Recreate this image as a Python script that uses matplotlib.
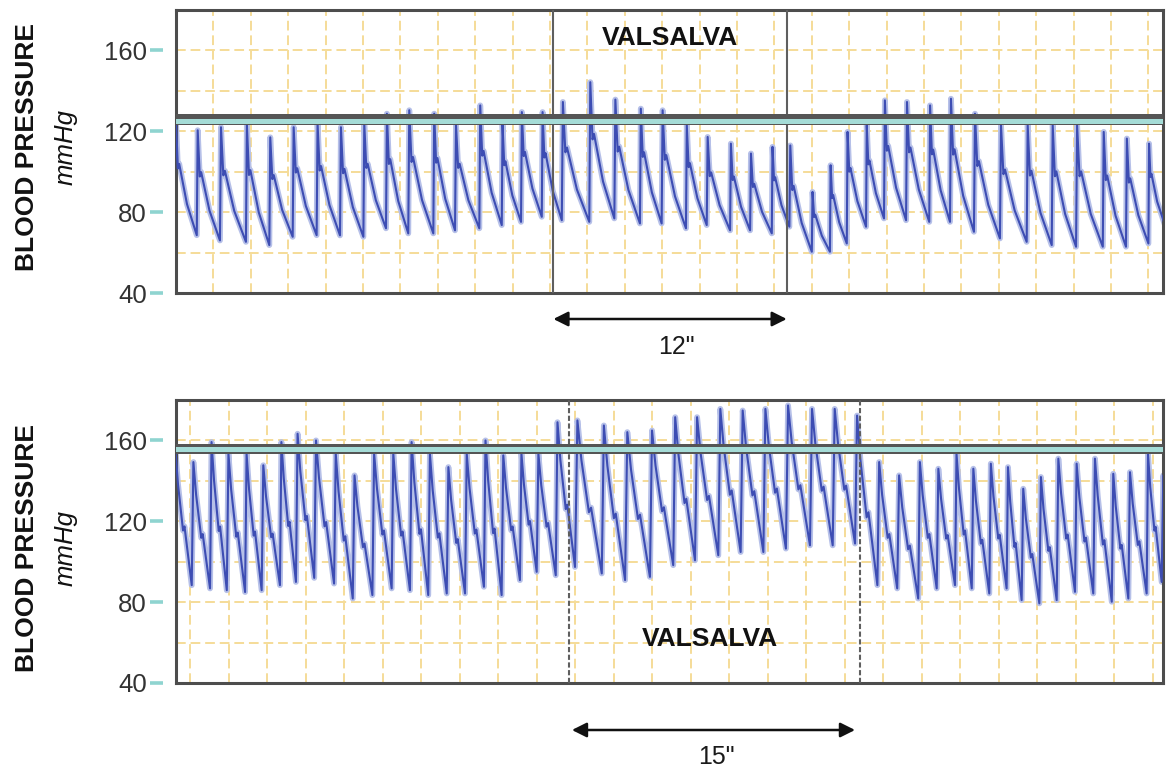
import matplotlib
matplotlib.use("Agg")
import matplotlib.pyplot as plt
import matplotlib.transforms as mtransforms
from matplotlib.ticker import MultipleLocator

plt.rcParams['font.family'] = ['Liberation Sans', 'DejaVu Sans']

# ---------------- data ----------------
# time in seconds, pressure in mmHg
# upper recording (12" Valsalva)
top_beat_t = [-0.05, 1.11, 2.35, 3.74, 4.99, 6.24, 7.52, 8.77, 10.02, 11.23,
              12.42, 13.76, 14.92, 16.22, 17.42, 18.45, 19.56, 20.63, 22.10, 23.44,
              24.81, 25.97, 27.27, 28.38, 29.63, 30.70, 31.86, 32.80, 34.00, 34.97,
              35.87, 36.90, 37.86, 39.04, 40.28, 41.39, 42.67, 44.06, 45.49, 46.83,
              48.13, 49.56, 50.80, 52.00]
top_peak = [125.5, 120.5, 122.0, 123.5, 117.0, 122.0, 123.8, 122.0, 123.5, 128.7,
            130.4, 128.7, 123.5, 132.8, 123.5, 129.5, 129.5, 134.5, 144.3, 135.7,
            131.2, 130.4, 123.0, 117.2, 113.9, 109.0, 112.3, 113.0, 90.0, 103.2,
            119.7, 123.0, 135.3, 134.5, 132.8, 136.1, 128.7, 123.0, 123.0, 123.0,
            123.0, 119.7, 116.4, 113.9]
top_trough = [100.0, 68.6, 66.0, 65.3, 63.7, 67.8, 68.6, 68.5, 67.8, 72.0,
              69.5, 69.5, 71.0, 72.0, 73.6, 75.2, 77.7, 76.0, 75.2, 76.9,
              74.4, 74.4, 72.0, 73.6, 71.0, 71.0, 69.5, 72.8, 60.4, 60.4,
              64.5, 72.8, 76.9, 76.0, 75.2, 75.2, 70.3, 67.0, 65.3, 63.7,
              62.9, 62.9, 62.9, 64.5, 74.6]
top_end_t = 52.85
top_valsalva = [20.18, 32.66]
top_baseline = [122.96, 128.74]      # horizontal reference bar (outer)
top_baseline_core = [123.80, 126.27]  # inner light band

# lower recording (15" Valsalva)
bot_beat_t = [-0.85, 0.09, 1.04, 1.91, 2.86, 3.72, 4.67, 5.50, 6.45, 7.48,
              8.45, 9.47, 10.47, 11.42, 12.37, 13.33, 14.28, 15.26, 16.18, 17.13,
              18.00, 18.99, 19.99, 21.38, 22.59, 23.88, 25.09, 26.22, 27.43, 28.59,
              29.77, 30.94, 32.19, 33.37, 34.53, 35.69, 36.72, 37.81, 38.77, 39.72,
              40.59, 41.50, 42.40, 43.18, 44.10, 45.00, 45.95, 46.90, 47.86, 48.72,
              49.67, 50.45]
bot_peak = [156.0, 149.3, 159.2, 153.4, 153.4, 147.7, 159.2, 163.3, 160.0, 153.4,
            142.7, 153.4, 153.4, 159.2, 153.4, 146.8, 153.4, 160.0, 152.6, 153.4,
            153.4, 169.0, 169.9, 167.4, 164.1, 164.9, 171.5, 171.5, 175.6, 174.8,
            175.6, 177.3, 175.6, 175.6, 172.3, 149.3, 142.7, 149.3, 146.0, 153.4,
            146.0, 148.5, 146.8, 136.1, 141.9, 151.0, 148.5, 151.0, 143.5, 144.3,
            153.4, 142.7]
bot_trough = [95.0, 88.4, 86.8, 85.9, 85.0, 85.9, 88.4, 90.0, 92.0, 89.2,
              81.8, 83.5, 86.8, 85.9, 83.5, 84.3, 84.3, 87.6, 83.5, 90.9,
              95.0, 93.3, 97.4, 94.2, 90.9, 92.5, 98.3, 100.7, 103.2, 104.8,
              104.8, 106.5, 108.1, 108.1, 109.0, 88.4, 86.8, 81.8, 86.8, 88.4,
              86.8, 84.3, 86.8, 81.0, 79.4, 81.0, 85.1, 84.3, 80.2, 81.8,
              84.3, 90.0, 90.0]
bot_end_t = 51.4
bot_valsalva = [19.68, 34.79]
bot_arrow = [19.83, 34.53]
bot_baseline = [153.4, 158.4]
bot_baseline_core = [154.2, 156.7]

y_ticks = [40, 80, 120, 160]

# pulse-contour template: fraction of the beat, fraction of pulse height
top_phase = [0.0, 0.04, 0.13, 0.19, 0.55]
top_level = [0.0, 1.0, 0.58, 0.62, 0.27]
bot_phase = [0.0, 0.09, 0.24, 0.52, 0.60]
bot_level = [0.0, 1.0, 0.74, 0.40, 0.43]


def build_trace(beat_t, peaks, troughs, end_t, phases, levels):
    ts = list(beat_t) + [end_t]
    xs, ys = [], []
    for i, pk in enumerate(peaks):
        t0, t1 = ts[i], ts[i + 1]
        lo0, lo1 = troughs[i], troughs[i + 1]
        for ph, lv in zip(phases, levels):
            if ph == 0.0:
                xs.append(t0)
                ys.append(lo0)
            else:
                xs.append(t0 + ph * (t1 - t0))
                ys.append(lo1 + lv * (pk - lo1))
    xs.append(ts[-1])
    ys.append(troughs[-1])
    return xs, ys


W, H = 1167, 773
fig = plt.figure(figsize=(W / 100, H / 100), dpi=100)

GRID_C = '#f5dc98'
SPINE_C = '#4d4d4d'
HALO_C = '#b6c0e8'
LINE_C = '#3d4db3'


def style_axes(ax, xlim):
    ax.set_xlim(*xlim)
    ax.set_ylim(40, 180)
    ax.xaxis.set_major_locator(MultipleLocator(2))
    ax.set_yticks(y_ticks)
    ax.yaxis.set_minor_locator(MultipleLocator(20))
    ax.tick_params(axis='x', length=0, labelbottom=False)
    ax.tick_params(axis='y', which='both', length=0)
    ax.tick_params(axis='y', which='major', pad=21, labelsize=18.5, labelcolor='#333333')
    ax.grid(True, which='major', axis='x', color=GRID_C, lw=1.4, ls=(0, (5, 2.5)), zorder=0)
    ax.grid(True, which='both', axis='y', color=GRID_C, lw=1.4, ls=(0, (5, 2.5)), zorder=0)
    ax.set_axisbelow(True)
    for s in ax.spines.values():
        s.set_color(SPINE_C)
        s.set_linewidth(2.2)
    trans = mtransforms.blended_transform_factory(ax.transAxes, ax.transData)
    for v in y_ticks:
        ax.plot([-0.0265, -0.0130], [v, v], transform=trans, color='#8fd4d0',
                lw=2.6, clip_on=False, solid_capstyle='butt')


def draw_band(ax, outer, core):
    ax.axhspan(outer[0], outer[1], color='#555555', lw=0, zorder=5)
    ax.axhspan(core[0], core[1], color='#a5dcd7', lw=0, zorder=6)


def fig_frac(px, py):
    return px / W, 1 - py / H


# ---------------- top panel ----------------
ax1 = fig.add_axes([176 / W, (H - 293) / H, 987 / W, 283 / H])
style_axes(ax1, (0, 52.78))
xs, ys = build_trace(top_beat_t, top_peak, top_trough, top_end_t, top_phase, top_level)
ax1.plot(xs, ys, color=HALO_C, lw=4.2, zorder=2, solid_joinstyle='round')
ax1.plot(xs, ys, color=LINE_C, lw=1.5, zorder=3, solid_joinstyle='round')
draw_band(ax1, top_baseline, top_baseline_core)
for v in top_valsalva:
    ax1.axvline(v, color='#5f5f5f', lw=1.5, zorder=4)
ax1.text(sum(top_valsalva) / 2, 166.0, 'VALSALVA', ha='center', va='center',
         fontsize=19, fontweight='bold', color='#111111', zorder=7)
ax1.annotate('', xy=(top_valsalva[1], 1 - 319 / H), xytext=(top_valsalva[0], 1 - 319 / H),
             xycoords=('data', 'figure fraction'), textcoords=('data', 'figure fraction'),
             arrowprops=dict(arrowstyle='<|-|>', color='#111111', lw=1.8,
                             mutation_scale=22, shrinkA=0, shrinkB=0))
fig.text(*fig_frac(676, 347), '12"', ha='center', va='center', fontsize=18, color='#1a1a1a')

# ---------------- bottom panel ----------------
ax2 = fig.add_axes([176 / W, (H - 683) / H, 987 / W, 283 / H])
style_axes(ax2, (-0.727, 50.52))
xs, ys = build_trace(bot_beat_t, bot_peak, bot_trough, bot_end_t, bot_phase, bot_level)
ax2.plot(xs, ys, color=HALO_C, lw=4.2, zorder=2, solid_joinstyle='round')
ax2.plot(xs, ys, color=LINE_C, lw=1.5, zorder=3, solid_joinstyle='round')
draw_band(ax2, bot_baseline, bot_baseline_core)
for v in bot_valsalva:
    ax2.axvline(v, color='#5f5f5f', lw=1.5, ls=(0, (2.5, 1.2)), zorder=4)
ax2.text(27.0, 62.0, 'VALSALVA', ha='center', va='center',
         fontsize=19, fontweight='bold', color='#111111', zorder=7)
ax2.annotate('', xy=(bot_arrow[1], 1 - 730 / H), xytext=(bot_arrow[0], 1 - 730 / H),
             xycoords=('data', 'figure fraction'), textcoords=('data', 'figure fraction'),
             arrowprops=dict(arrowstyle='<|-|>', color='#111111', lw=1.8,
                             mutation_scale=22, shrinkA=0, shrinkB=0))
fig.text(*fig_frac(716, 757), '15"', ha='center', va='center', fontsize=18, color='#1a1a1a')

# ---------------- axis titles ----------------
for yc in (147, 548):
    fig.text(*fig_frac(27, yc), 'BLOOD PRESSURE', rotation=90, ha='center', va='center',
             fontsize=19, fontweight='bold', color='#111111')
    fig.text(*fig_frac(66, yc), 'mmHg', rotation=90, ha='center', va='center',
             fontsize=18.5, fontstyle='italic', color='#111111')

fig.savefig('out.png', dpi=100)
